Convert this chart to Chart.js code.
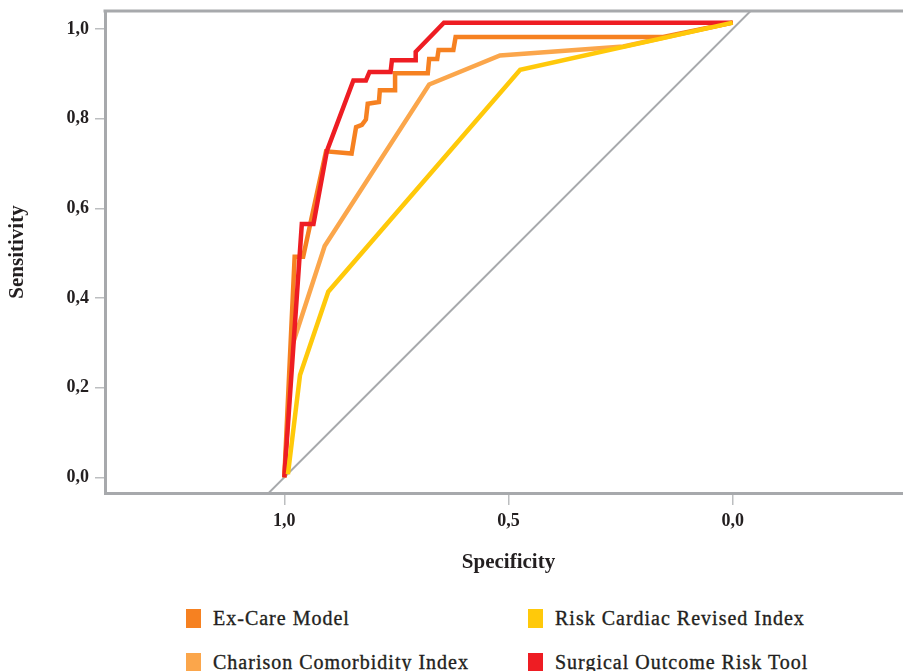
<!DOCTYPE html>
<html>
<head>
<meta charset="utf-8">
<title>ROC curves</title>
<script src="https://cdn.jsdelivr.net/npm/chart.js@4.4.1/dist/chart.umd.min.js"></script>
<style>
  html, body { margin: 0; padding: 0; background: #fff; }
  body { width: 903px; height: 671px; overflow: hidden; position: relative; }
  #wrap { position: absolute; left: 0; top: 0; width: 912px; height: 590px; }
  .legend-item {
    position: absolute;
    display: flex;
    align-items: center;
    font-family: 'Liberation Serif', serif;
    font-size: 20px;
    letter-spacing: 1px;
    color: #231f20;
    -webkit-text-stroke: 0.35px #231f20;
    white-space: nowrap;
  }
  .legend-item .swatch { width: 15px; height: 19px; margin-right: 12px; }
</style>
</head>
<body>
<div id="wrap"><canvas id="rocChart" width="912" height="590"></canvas></div>
<div id="legend"></div>

<script>
// tick values
const xTicks = [1.0, 0.5, 0.0];
const yTicks = [0.0, 0.2, 0.4, 0.6, 0.8, 1.0];

// Ex-Care Model
const exCareSpec = [1.0, 0.977, 0.958, 0.907, 0.850, 0.840, 0.827, 0.818, 0.814, 0.789, 0.787, 0.753, 0.753, 0.680, 0.677, 0.659, 0.656, 0.623, 0.618, 0.155, 0.0];
const exCareSens = [0.0, 0.492, 0.492, 0.727, 0.722, 0.781, 0.786, 0.798, 0.833, 0.837, 0.863, 0.863, 0.901, 0.901, 0.933, 0.933, 0.953, 0.953, 0.982, 0.982, 1.014];

// Charison Comorbidity Index
const charisonSpec = [1.0, 0.982, 0.910, 0.677, 0.519, 0.244, 0.0];
const charisonSens = [0.0, 0.295, 0.516, 0.876, 0.941, 0.961, 1.014];

// Risk Cardiac Revised Index
const rcriSpec = [0.992, 0.965, 0.902, 0.474, 0.0];
const rcriSens = [0.007, 0.228, 0.414, 0.909, 1.014];

// Surgical Outcome Risk Tool
const sortSpec = [1.0, 0.961, 0.935, 0.905, 0.846, 0.818, 0.810, 0.763, 0.760, 0.707, 0.707, 0.644, 0.0];
const sortSens = [0.0, 0.565, 0.565, 0.728, 0.885, 0.885, 0.904, 0.904, 0.930, 0.930, 0.949, 1.014, 1.014];

// reference line
const diagSpec = [1.1, -0.1];
const diagSens = [-0.1, 1.1];

const axisGray = '#a7a9ac';
const tickGray = '#bcbec0';
const textColor = '#231f20';

const series = [
    { label: 'Ex-Care Model', spec: exCareSpec, sens: exCareSens, color: '#f68121', order: 2 },
    { label: 'Risk Cardiac Revised Index', spec: rcriSpec, sens: rcriSens, color: '#ffc90a', order: 0 },
    { label: 'Charison Comorbidity Index', spec: charisonSpec, sens: charisonSens, color: '#fba64b', order: 3 },
    { label: 'Surgical Outcome Risk Tool', spec: sortSpec, sens: sortSens, color: '#ee1d23', order: 1 }
];

function toPoints(xs, ys) {
    return xs.map((x, i) => ({ x: x, y: ys[i] }));
}

function fmt(v) {
    return v.toFixed(1).replace('.', ',');
}

const datasets = series.map(s => ({
    label: s.label,
    data: toPoints(s.spec, s.sens),
    borderColor: s.color,
    backgroundColor: s.color,
    borderWidth: 4.5,
    pointRadius: 0,
    showLine: true,
    tension: 0,
    order: s.order
}));

datasets.push({
    label: 'diagonal',
    data: toPoints(diagSpec, diagSens),
    borderColor: axisGray,
    borderWidth: 2,
    pointRadius: 0,
    showLine: true,
    clip: 0,
    order: 5
});

const frameTop = {
    id: 'frameTop',
    beforeDatasetsDraw(chart) {
        const { ctx, chartArea } = chart;
        ctx.save();
        ctx.strokeStyle = axisGray;
        ctx.lineWidth = 3;
        ctx.beginPath();
        ctx.moveTo(chartArea.left - 1.5, chartArea.top);
        ctx.lineTo(chartArea.right, chartArea.top);
        ctx.stroke();
        ctx.restore();
    }
};

const tickFont = { family: "'Liberation Serif', serif", size: 18, weight: 'bold' };
const titleFont = { family: "'Liberation Serif', serif", size: 21, weight: 'bold' };

new Chart(document.getElementById('rocChart').getContext('2d'), {
    type: 'scatter',
    data: { datasets: datasets },
    plugins: [frameTop],
    options: {
        responsive: false,
        animation: false,
        devicePixelRatio: 1,
        layout: { padding: { top: 11, right: 0, bottom: 0, left: 0 } },
        plugins: {
            legend: { display: false },
            tooltip: { enabled: false }
        },
        scales: {
            x: {
                type: 'linear',
                reverse: true,
                min: -0.4,
                max: 1.4,
                afterBuildTicks: scale => { scale.ticks = xTicks.map(v => ({ value: v })); },
                afterFit: scale => {
                    scale.height = 97;
                    scale.paddingLeft = 0;
                    scale.paddingRight = 0;
                },
                ticks: {
                    color: textColor,
                    font: tickFont,
                    padding: 6,
                    maxRotation: 0,
                    callback: v => fmt(v)
                },
                grid: {
                    drawOnChartArea: false,
                    drawTicks: true,
                    tickLength: 12,
                    color: tickGray,
                    lineWidth: 1.5
                },
                border: { display: true, color: axisGray, width: 3 },
                title: {
                    display: true,
                    text: 'Specificity',
                    color: textColor,
                    font: titleFont,
                    padding: { top: 0, bottom: 15 }
                }
            },
            y: {
                type: 'linear',
                min: -0.035,
                max: 1.04,
                afterBuildTicks: scale => { scale.ticks = yTicks.map(v => ({ value: v })); },
                afterFit: scale => {
                    scale.width = 105;
                    scale.paddingTop = 0;
                    scale.paddingBottom = 0;
                },
                ticks: {
                    color: textColor,
                    font: tickFont,
                    padding: 6,
                    callback: v => fmt(v)
                },
                grid: {
                    drawOnChartArea: false,
                    drawTicks: true,
                    tickLength: 10,
                    color: tickGray,
                    lineWidth: 1.5
                },
                border: { display: true, color: axisGray, width: 3 },
                title: {
                    display: true,
                    text: 'Sensitivity',
                    color: textColor,
                    font: titleFont,
                    padding: { top: 5, bottom: 0 }
                }
            }
        }
    }
});

// legend in two columns below the chart
const legendPos = [
    { left: 186, top: 618 },
    { left: 528, top: 618 },
    { left: 186, top: 662 },
    { left: 528, top: 662 }
];
const legendEl = document.getElementById('legend');
series.forEach((s, i) => {
    const item = document.createElement('div');
    item.className = 'legend-item';
    item.style.left = legendPos[i].left + 'px';
    item.style.top = (legendPos[i].top - 12) + 'px';
    item.style.height = '24px';
    const sw = document.createElement('span');
    sw.className = 'swatch';
    sw.style.background = s.color;
    const txt = document.createElement('span');
    txt.textContent = s.label;
    item.appendChild(sw);
    item.appendChild(txt);
    legendEl.appendChild(item);
});
</script>
</body>
</html>
